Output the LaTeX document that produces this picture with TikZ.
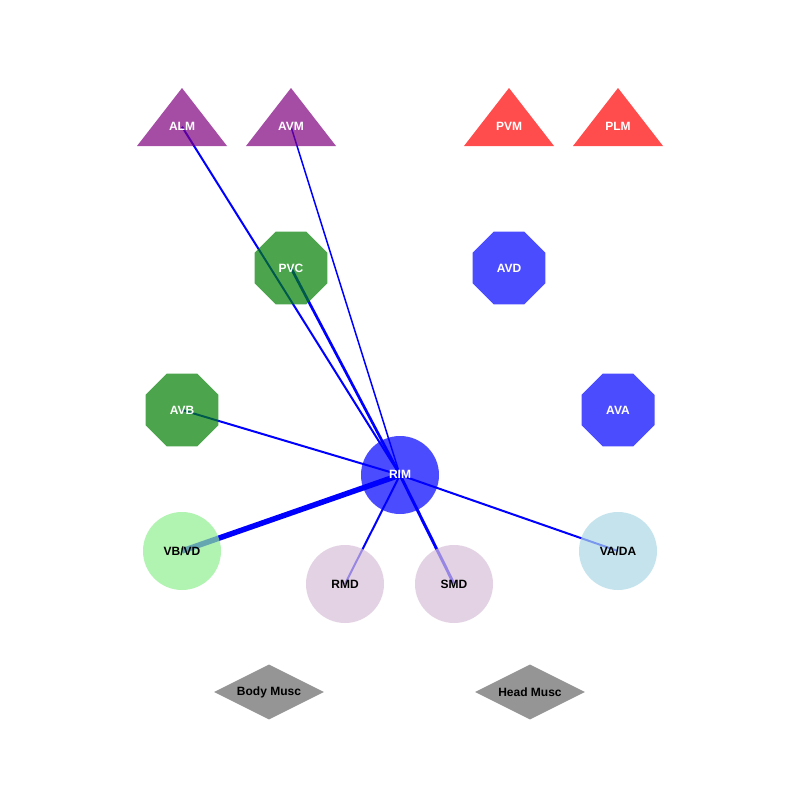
\documentclass[tikz,border=0pt]{standalone}
\usepackage{fontspec}
\setmainfont{Liberation Sans}
\usetikzlibrary{shapes.geometric}
\definecolor{cpurple}{RGB}{128,0,128}
\definecolor{cred}{RGB}{255,0,0}
\definecolor{cgreen}{RGB}{0,128,0}
\definecolor{cblue}{RGB}{0,0,255}
\definecolor{clgreen}{RGB}{144,238,144}
\definecolor{cthistle}{RGB}{216,191,216}
\definecolor{clblue}{RGB}{173,216,230}
\definecolor{cdgray}{RGB}{105,105,105}
\tikzset{
  lbl/.style={font=\bfseries\fontsize{12}{14}\selectfont, inner sep=0pt},
  tri/.style={fill opacity=0.7},
  octo/.style={regular polygon, regular polygon sides=8, minimum size=79pt, inner sep=0pt, fill opacity=0.7, text opacity=1, font=\bfseries\fontsize{12}{14}\selectfont, text=white},
  circ/.style={circle, minimum size=78pt, inner sep=0pt, fill opacity=0.7, text opacity=1, font=\bfseries\fontsize{12}{14}\selectfont},
  dia/.style={diamond, aspect=2, minimum width=110pt, minimum height=55pt, inner sep=0pt, fill=cdgray, fill opacity=0.7, text opacity=1, font=\bfseries\fontsize{12}{14}\selectfont},
  link/.style={draw=cblue},
}
\begin{document}
\begin{tikzpicture}[x=1pt,y=-1pt]
\useasboundingbox[fill=white] (0,0) rectangle (800,800);
% coordinates of centres
\coordinate (ALMc) at (182,126.7);
\coordinate (AVMc) at (291,126.7);
\coordinate (PVMc) at (509,126.7);
\coordinate (PLMc) at (618,126.7);
\coordinate (PVCc) at (291,268);
\coordinate (AVDc) at (509,268);
\coordinate (AVBc) at (182,410);
\coordinate (AVAc) at (618,410);
\coordinate (RIMc) at (400,475);
\coordinate (VBVDc) at (182,551);
\coordinate (RMDc) at (345,584);
\coordinate (SMDc) at (454,584);
\coordinate (VADAc) at (618,551);
% edges
\draw[link, line width=2pt] (ALMc) -- (RIMc);
\draw[link, line width=1.5pt] (AVMc) -- (RIMc);
\draw[link, line width=2.7pt] (PVCc) -- (RIMc);
\draw[link, line width=2pt] (AVBc) -- (RIMc);
\draw[link, line width=5.5pt] (VBVDc) -- (RIMc);
\draw[link, line width=2pt] (RMDc) -- (RIMc);
\draw[link, line width=3pt] (SMDc) -- (RIMc);
\draw[link, line width=2pt] (VADAc) -- (RIMc);
% triangles
\fill[cpurple, tri] (182,88) -- (227,146) -- (137,146) -- cycle;
\fill[cpurple, tri] (291,88) -- (336,146) -- (246,146) -- cycle;
\fill[cred, tri] (509,88) -- (554,146) -- (464,146) -- cycle;
\fill[cred, tri] (618,88) -- (663,146) -- (573,146) -- cycle;
\node[lbl, text=white] (ALM) at (182,126) {ALM};
\node[lbl, text=white] (AVM) at (291,126) {AVM};
\node[lbl, text=white] (PVM) at (509,126) {PVM};
\node[lbl, text=white] (PLM) at (618,126) {PLM};
% octagons
\node[octo, fill=cgreen] (PVC) at (PVCc) {PVC};
\node[octo, fill=cblue] (AVD) at (AVDc) {AVD};
\node[octo, fill=cgreen] (AVB) at (AVBc) {AVB};
\node[octo, fill=cblue] (AVA) at (AVAc) {AVA};
% circles
\node[circ, fill=cblue, text=white] (RIM) at (RIMc) {\raisebox{2pt}{RIM}};
\node[circ, fill=clgreen] (VBVD) at (VBVDc) {VB/VD};
\node[circ, fill=cthistle] (RMD) at (RMDc) {RMD};
\node[circ, fill=cthistle] (SMD) at (SMDc) {SMD};
\node[circ, fill=clblue] (VADA) at (VADAc) {VA/DA};
% diamonds
\node[dia] (Body) at (269,692) {Body Musc};
\node[dia] (Head) at (530,692) {Head Musc};
\end{tikzpicture}
\end{document}
